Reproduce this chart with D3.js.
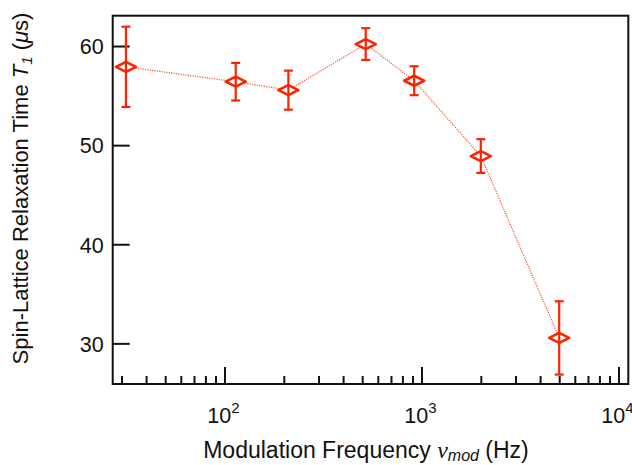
<!DOCTYPE html>
<html lang="en">
<head>
<meta charset="utf-8"/>
<title>T1 vs modulation frequency</title>
<script src="https://d3js.org/d3.v7.min.js"></script>
<style>
  body { margin: 0; background: #fff; }
  text { font-family: "Liberation Sans", Arial, Helvetica, sans-serif; fill: #111; }
</style>
</head>
<body>
<script>
// data
var freq = [31.6, 114, 211, 521, 918, 2000, 5000];      // Hz
var t1 = [57.9, 56.4, 55.55, 60.2, 56.5, 48.9, 30.55];  // microseconds
var t1Err = [4.05, 1.9, 1.97, 1.6, 1.46, 1.7, 3.7];

var xMajor = [100, 1000, 10000];
var xMajorExp = ["2", "3", "4"];
var yTicks = [30, 40, 50, 60];

var w = 632, h = 465;
var margin = {top: 15.7, right: 3.7, bottom: 81, left: 112.7};
var red = "#ff2200";

var svg = d3.select("body").append("svg")
  .attr("width", w)
  .attr("height", h);

var xScale = d3.scaleLog()
  .domain([27.07, 11213])
  .range([margin.left, w - margin.right]);

var yScale = d3.scaleLinear()
  .domain([25.9, 63.06])
  .range([h - margin.bottom, margin.top]);

// minor ticks 30..90, 200..900, 2000..9000
var xMinor = [];
[10, 100, 1000].forEach(function(dec) {
  for (var k = 2; k <= 9; k++) {
    var v = dec * k;
    if (v >= 27.07 && v <= 11213) xMinor.push(v);
  }
});

var xb = h - margin.bottom;

// minor ticks (inside)
svg.append("g")
  .attr("transform", "translate(0," + xb + ")")
  .call(d3.axisBottom(xScale).tickValues(xMinor).tickSize(-8).tickFormat(""))
  .call(function(g) { g.select(".domain").remove(); })
  .selectAll("line").attr("stroke", "#111").attr("stroke-width", 2);

// major ticks
var xAxis = svg.append("g")
  .attr("transform", "translate(0," + xb + ")")
  .call(d3.axisBottom(xScale).tickValues(xMajor).tickSize(-17).tickFormat(""));
xAxis.select(".domain").remove();
xAxis.selectAll("line").attr("stroke", "#111").attr("stroke-width", 2);

// x tick labels 10^n
var lab = svg.append("g").selectAll("text")
  .data(xMajor)
  .enter()
  .append("text")
  .attr("x", function(d) { return xScale(d) - 1; })
  .attr("y", 423)
  .attr("text-anchor", "middle")
  .attr("font-size", "21.5px");
lab.append("tspan").text("10");
lab.append("tspan")
  .attr("dy", -10)
  .attr("font-size", "15px")
  .text(function(d, i) { return xMajorExp[i]; });

// y axis
var yAxis = svg.append("g")
  .attr("transform", "translate(" + margin.left + ",0)")
  .call(d3.axisLeft(yScale).tickValues(yTicks).tickSize(-17).tickPadding(10));
yAxis.select(".domain").remove();
yAxis.selectAll("line").attr("stroke", "#111").attr("stroke-width", 2);
yAxis.selectAll("text")
  .attr("font-size", "21.5px")
  .attr("font-family", "Liberation Sans, Arial, sans-serif")
  .attr("fill", "#111")
  .attr("x", -9)
  .attr("dy", "0.36em");

// frame
svg.append("rect")
  .attr("x", margin.left)
  .attr("y", margin.top)
  .attr("width", w - margin.left - margin.right)
  .attr("height", h - margin.top - margin.bottom)
  .attr("fill", "none")
  .attr("stroke", "#111")
  .attr("stroke-width", 2);

// dotted connecting line
var line = d3.line()
  .x(function(d, i) { return xScale(freq[i]); })
  .y(function(d) { return yScale(d); });

svg.append("path")
  .datum(t1)
  .attr("d", line)
  .attr("fill", "none")
  .attr("stroke", red)
  .attr("stroke-opacity", 0.8)
  .attr("stroke-width", 1.2)
  .attr("stroke-dasharray", "1.2,1.2");

// diamond markers
svg.append("g").selectAll("path")
  .data(t1)
  .enter()
  .append("path")
  .attr("transform", function(d, i) { return "translate(" + xScale(freq[i]) + "," + yScale(d) + ")"; })
  .attr("d", "M-10,0L0,-5L10,0L0,5Z")
  .attr("fill", "#fff")
  .attr("stroke", red)
  .attr("stroke-width", 2.6)
  .attr("stroke-linejoin", "round");

// error bars
var eb = svg.append("g")
  .attr("stroke", red)
  .attr("stroke-width", 2.2)
  .selectAll("g")
  .data(t1)
  .enter()
  .append("g");

eb.append("line")
  .attr("x1", function(d, i) { return xScale(freq[i]); })
  .attr("x2", function(d, i) { return xScale(freq[i]); })
  .attr("y1", function(d, i) { return yScale(d + t1Err[i]); })
  .attr("y2", function(d, i) { return yScale(d - t1Err[i]); });

eb.append("line")
  .attr("x1", function(d, i) { return xScale(freq[i]) - 4.5; })
  .attr("x2", function(d, i) { return xScale(freq[i]) + 4.5; })
  .attr("y1", function(d, i) { return yScale(d + t1Err[i]); })
  .attr("y2", function(d, i) { return yScale(d + t1Err[i]); });

eb.append("line")
  .attr("x1", function(d, i) { return xScale(freq[i]) - 4.5; })
  .attr("x2", function(d, i) { return xScale(freq[i]) + 4.5; })
  .attr("y1", function(d, i) { return yScale(d - t1Err[i]); })
  .attr("y2", function(d, i) { return yScale(d - t1Err[i]); });

// axis titles
var xt = svg.append("text")
  .attr("x", 366)
  .attr("y", 458)
  .attr("text-anchor", "middle")
  .attr("font-size", "23px");
xt.append("tspan").text("Modulation Frequency ");
xt.append("tspan")
  .attr("font-family", "Liberation Serif, serif")
  .attr("font-style", "italic")
  .attr("font-size", "24px")
  .text("\u03bd");
xt.append("tspan")
  .attr("font-style", "italic")
  .attr("font-size", "16px")
  .attr("dy", 3)
  .text("mod");
xt.append("tspan")
  .attr("dy", -3)
  .text(" (Hz)");

var yt = svg.append("text")
  .attr("transform", "translate(28,188.5) rotate(-90)")
  .attr("text-anchor", "middle")
  .attr("font-size", "22px");
yt.append("tspan").text("Spin-Lattice Relaxation Time ");
yt.append("tspan").attr("font-style", "italic").text("T");
yt.append("tspan")
  .attr("font-style", "italic")
  .attr("font-size", "15px")
  .attr("dy", 4)
  .text("1");
yt.append("tspan").attr("dy", -4).text(" (");
yt.append("tspan").attr("font-style", "italic").text("\u03bc");
yt.append("tspan").text("s)");
</script>
</body>
</html>
